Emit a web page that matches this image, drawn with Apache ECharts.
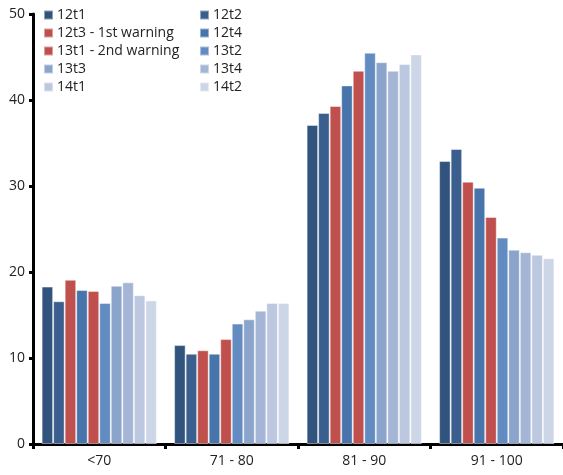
<!DOCTYPE html>
<html>
<head>
<meta charset="utf-8">
<script src="https://cdn.jsdelivr.net/npm/echarts@6/dist/echarts.min.js"></script>
<style>html,body{margin:0;padding:0;background:#fff}#c{width:563px;height:475px}</style>
</head>
<body>
<div id="c"></div>
<script>
const categories = ['<70', '71 - 80', '81 - 90', '91 - 100'];
const seriesNames = ['12t1', '12t2', '12t3 - 1st warning', '12t4', '13t1 - 2nd warning', '13t2', '13t3', '13t4', '14t1', '14t2'];
const s12t1 = [18.3, 11.5, 37.1, 32.9];
const s12t2 = [16.6, 10.5, 38.5, 34.3];
const s12t3 = [19.1, 10.9, 39.3, 30.5];
const s12t4 = [17.9, 10.5, 41.7, 29.8];
const s13t1 = [17.8, 12.2, 43.4, 26.4];
const s13t2 = [16.4, 14.0, 45.5, 24.0];
const s13t3 = [18.4, 14.5, 44.4, 22.6];
const s13t4 = [18.8, 15.5, 43.4, 22.3];
const s14t1 = [17.3, 16.4, 44.2, 22.0];
const s14t2 = [16.7, 16.4, 45.3, 21.6];
const yTicks = [0, 10, 20, 30, 40, 50];

const values = [s12t1, s12t2, s12t3, s12t4, s13t1, s13t2, s13t3, s13t4, s14t1, s14t2];
const colors = ['#30547e', '#3a5f8f', '#c0504d', '#4774aa', '#c0504d', '#628cc1', '#8aa4cc', '#a4b5d5', '#bcc8e0', '#cdd6e7'];
const font = '"Open Sans", "Noto Sans", sans-serif';

const chart = echarts.init(document.getElementById('c'), null, {renderer: 'canvas'});
const legendBase = {
  orient: 'vertical', top: 3, itemWidth: 9, itemHeight: 9, itemGap: 4,
  icon: 'rect', textStyle: {fontFamily: font, fontSize: 14, color: '#222', padding: [0, 0, 0, -1]}
};
chart.setOption({
  animation: false,
  color: colors,
  legend: [
    Object.assign({}, legendBase, {left: 38, data: [seriesNames[0], seriesNames[2], seriesNames[4], seriesNames[6], seriesNames[8]]}),
    Object.assign({}, legendBase, {left: 194, data: [seriesNames[1], seriesNames[3], seriesNames[5], seriesNames[7], seriesNames[9]]})
  ],
  grid: {left: 33, right: 0, top: 14, bottom: 31, containLabel: false},
  xAxis: {
    type: 'category', data: categories,
    axisLine: {lineStyle: {color: '#000', width: 3}},
    axisTick: {show: true, length: 5, lineStyle: {color: '#000', width: 3}},
    axisLabel: {fontFamily: font, fontSize: 14, color: '#222', margin: 10}
  },
  yAxis: {
    type: 'value', min: yTicks[0], max: yTicks[yTicks.length - 1], interval: 10,
    axisLine: {show: true, lineStyle: {color: '#000', width: 3}},
    axisTick: {show: true, length: 4, lineStyle: {color: '#000', width: 3}},
    splitLine: {show: false},
    axisLabel: {fontFamily: font, fontSize: 14, color: '#222', margin: 8}
  },
  series: values.map((v, i) => ({
    name: seriesNames[i], type: 'bar', data: v,
    barGap: '0%', barCategoryGap: '13%',
    itemStyle: {color: colors[i], borderColor: 'rgba(255,255,255,0.45)', borderWidth: 1}
  }))
});
</script>
</body>
</html>
